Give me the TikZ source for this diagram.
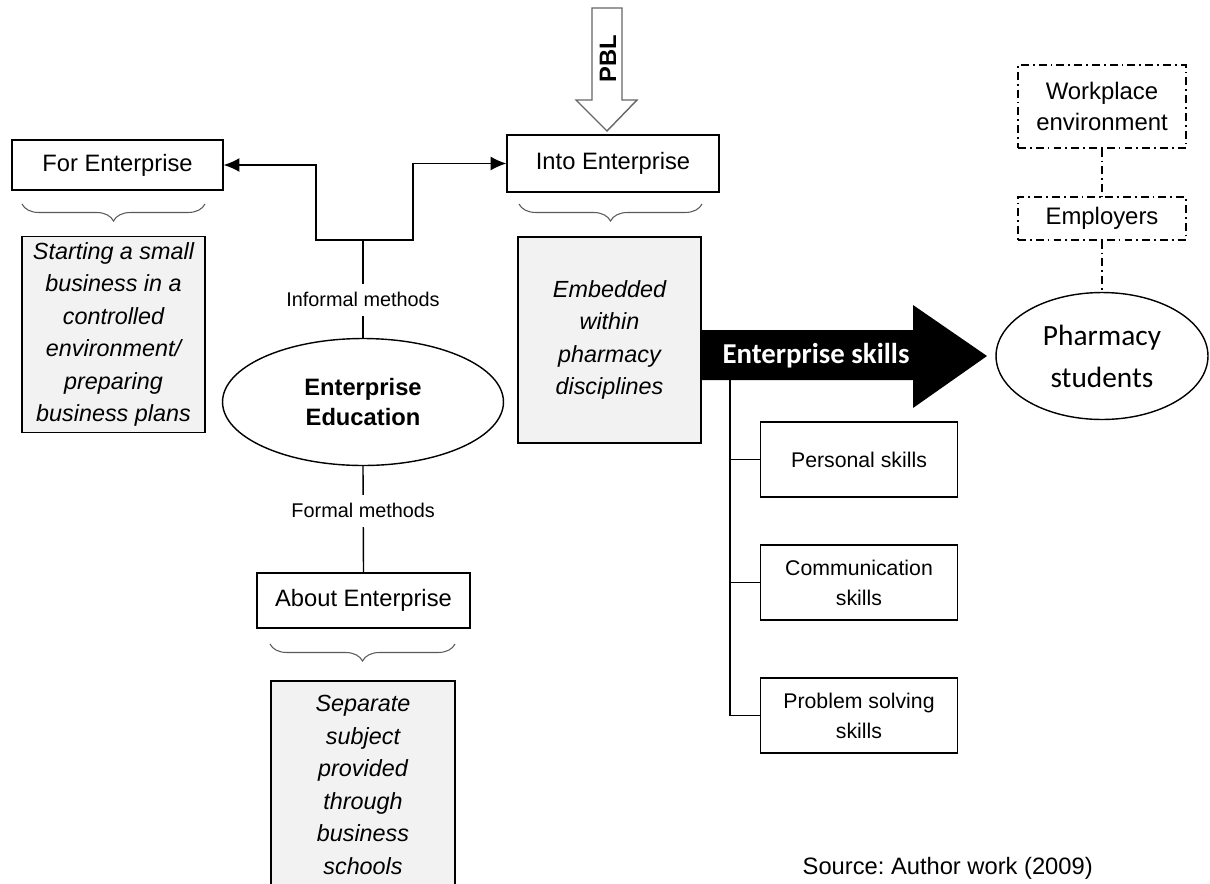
\documentclass[tikz,border=0pt]{standalone}
\usepackage{fontspec}
\setmainfont{Liberation Sans}
\newfontfamily\calibri{Carlito}
\usetikzlibrary{arrows.meta,shapes.geometric,decorations.pathreplacing}

\definecolor{boxgray}{HTML}{F2F2F2}
\frenchspacing

\begin{document}
\begin{tikzpicture}[%
        x = 0.02cm,
        y = -0.02cm,
        line width = 0.8pt,
        > = {Latex[length = 9pt, width = 8pt]},
        plainbox/.style = {
            draw = black,
            rectangle,
            align = center,
            inner sep = 0,
            font = \fontsize{13.5}{16}\selectfont
        },
        graybox/.style = {
            plainbox,
            fill = boxgray,
            minimum width = 3.66cm,
            font = \fontsize{13.3}{18.5}\selectfont\itshape
        },
        skillbox/.style = {
            plainbox,
            minimum width = 3.94cm,
            minimum height = 1.5cm,
            font = \fontsize{12.1}{17}\selectfont
        },
        dashdot/.style = {
            dash pattern = on 4.5pt off 2.3pt on 1pt off 2.3pt
        },
        dotbox/.style = {
            plainbox,
            dashdot,
            minimum width = 3.36cm,
            font = \fontsize{13.6}{18}\selectfont
        },
        methodlabel/.style = {
            fill = white,
            inner xsep = 2pt,
            inner ysep = 5pt,
            font = \fontsize{11.3}{13}\selectfont
        },
        bracecurve/.style = {
            draw = black!65,
            line width = 0.6pt,
            decorate,
            decoration = {brace, mirror, amplitude = 0.34cm, aspect = 0.5}
        }
    ]

        \useasboundingbox (0,0) rectangle (1210,883);

        % Central ellipse and the three kinds of enterprise education.
        \node[draw, ellipse, inner sep = 0, minimum width = 5.62cm,
              minimum height = 2.54cm, align = center,
              font = \fontsize{13.5}{17}\selectfont\bfseries]
              at (363, 402) (edu) {Enterprise\\Education};
        \node[plainbox, minimum width = 4.22cm, minimum height = 1.0cm]
              at (117.5, 165) (forent) {For Enterprise};
        \node[plainbox, minimum width = 4.24cm, minimum height = 1.14cm]
              at (613, 163.5) (intoent) {Into Enterprise};
        \node[plainbox, minimum width = 4.26cm, minimum height = 1.1cm]
              at (363.5, 600.5) (aboutent) {About Enterprise};

        % Grey boxes under the braces.
        \node[graybox, minimum height = 3.92cm] at (113.5, 334.5) (forgray)
              {Starting a small\\business in a\\controlled\\environment/\\preparing\\business plans};
        \node[graybox, minimum height = 4.12cm] at (609.5, 340) (embgray)
              {Embedded\\within\\pharmacy\\disciplines};
        \node[graybox, minimum width = 3.68cm, minimum height = 4.16cm]
              at (363, 785) (sepgray)
              {Separate\\subject\\provided\\through\\business\\schools};

        % Braces.
        \draw[bracecurve] (22, 204) -- (205, 204);
        \draw[bracecurve] (519, 204) -- (702, 204);
        \draw[bracecurve] (270, 644) -- (455, 644);

        % Links from the ellipse.
        \coordinate (split) at (363, 240);
        \draw (edu.north) -- node[methodlabel, pos = 0.39] {Informal methods} (split);
        \draw[->] (split) -- (316, 240) |- (forent.east);
        \draw[->] (split) -- (413, 240) |- (intoent.west);
        \draw (edu.south) -- node[methodlabel, pos = 0.42] {Formal methods} (aboutent.north);

        % Hollow PBL arrow.
        \draw[draw = black!60, fill = white]
              (592, 8) -- (622, 8) -- (622, 100) -- (637, 100) -- (607, 131)
              -- (576, 100) -- (592, 100) -- cycle;
        \node[rotate = 90, font = \fontsize{13.5}{16}\selectfont\bfseries]
              at (608, 59) (pbl) {PBL};

        % Students and the workplace.
        \node[draw, ellipse, inner sep = 0, minimum width = 4.24cm,
              minimum height = 2.54cm, align = center,
              font = \calibri\fontsize{16.7}{24}\selectfont]
              at (1102, 356) (pharm) {Pharmacy\\students};
        \node[dotbox, minimum height = 1.66cm] at (1102, 106.5) (work)
              {Workplace\\environment};
        \node[dotbox, minimum height = 0.86cm] at (1102, 218.5) (empl) {Employers};
        \draw[dashdot] (work.south) -- (empl.north);
        \draw[dashdot] (empl.south) -- (pharm.north);

        % Big black arrow.
        \fill (701, 330) -- (913, 330) -- (913, 305) -- (987, 356)
              -- (913, 408) -- (913, 380) -- (701, 380) -- cycle;
        \node[text = white, font = \calibri\fontsize{16.4}{20}\selectfont\bfseries]
              at (816, 356) (skills) {Enterprise skills};

        % Skill boxes.
        \node[skillbox] at (859, 459.5) (pers) {Personal skills};
        \node[skillbox] at (859, 582.5) (comm) {Communication\\skills};
        \node[skillbox] at (859, 715.5) (prob) {Problem solving\\skills};
        \coordinate (skillroot) at (730, 380);
        \draw (skillroot) |- (pers.west);
        \draw (skillroot) |- (comm.west);
        \draw (skillroot) |- (prob.west);

        \node[anchor = base west, inner sep = 0, font = \fontsize{13.5}{16}\selectfont]
              at (802, 874) (source) {Source: Author work (2009)};
    \end{tikzpicture}
\end{document}
